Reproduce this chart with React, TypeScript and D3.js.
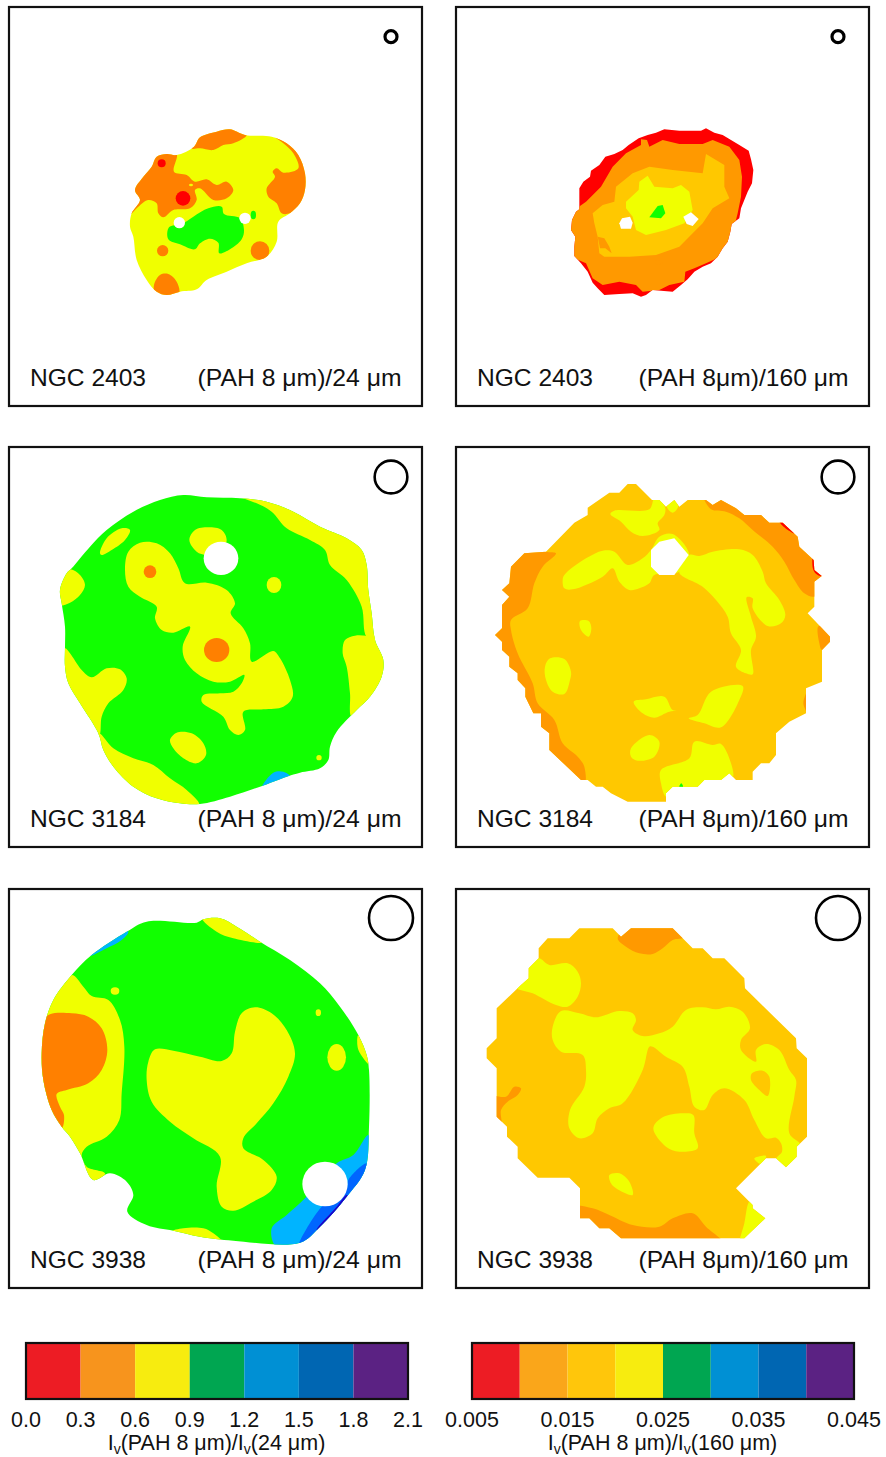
import React from "react";
import * as d3 from "d3";

type P = [number, number];
const RED = "#ff0000", ORANGE = "#ff8000", AMBERD = "#ff9900", AMBER = "#ffc800", YELLOW = "#f0ff00", GREEN = "#11ff00", SKY = "#00b4ff", BLUE = "#0066ff", NAVY = "#2000c8", WHITE = "#ffffff";

// ---- colour bars
const bar24Ticks = [0.0, 0.3, 0.6, 0.9, 1.2, 1.5, 1.8, 2.1];
const bar24Colors = ["#ed1c24", "#f7941d", "#f7ec0f", "#00a651", "#0090d4", "#0066b2", "#5b2283"];
const bar160Edges = [0.005, 0.01, 0.015, 0.02, 0.025, 0.03, 0.035, 0.04, 0.045];
const bar160Labels = [0.005, 0.015, 0.025, 0.035, 0.045];
const bar160Colors = ["#ed1c24", "#faa61a", "#ffc60b", "#f7ec0f", "#00a651", "#0090d4", "#0066b2", "#5b2283"];

// ---- contour outlines, in map units (3 units = 1 arc-map step)
const n2403a_base: P[] = [[582,440],[600,412],[650,395],[690,388],[735,405],[815,410],[860,430],[895,465],[915,520],[915,570],[900,610],[870,640],[835,665],[830,725],[800,770],[740,790],[680,815],[620,840],[590,868],[540,875],[500,885],[470,875],[440,840],[410,780],[400,710],[390,680],[395,640],[420,600],[405,570],[430,530],[455,500],[470,470],[500,462],[530,465]];
const n2403a_o1: P[] = [[575,445],[600,405],[650,385],[690,380],[740,405],[700,430],[670,435],[640,450],[600,445]];
const n2403a_o2: P[] = [[385,650],[415,595],[400,570],[425,525],[450,495],[465,465],[500,455],[530,462],[522,515],[560,525],[585,545],[620,538],[650,555],[680,545],[700,570],[680,595],[640,600],[600,565],[585,570],[590,600],[570,625],[520,630],[490,652],[475,640],[470,610],[445,600],[415,620]];
const n2403a_o3: P[] = [[815,405],[860,425],[900,460],[925,520],[925,570],[905,615],[870,640],[845,640],[830,610],[805,590],[800,565],[825,530],[818,515],[830,505],[850,518],[895,505],[880,460],[850,430]];
const n2403a_o4: P[] = [[462,855],[480,825],[505,822],[530,845],[537,880],[500,895],[465,880]];
const n2403a_g: P[] = [[507,682],[545,672],[580,650],[625,625],[665,620],[672,642],[720,655],[732,690],[725,718],[690,748],[658,760],[655,728],[630,716],[600,730],[585,748],[540,733],[505,718]];
const n2403a_spots = [[485,490,12,12,RED],[549,595,22,22,RED],[488,752,17,17,ORANGE],[780,752,28,28,ORANGE],[573,555,6,4,YELLOW],[760,645,8,13,GREEN],[538,668,17,17,WHITE],[735,655,17,17,WHITE]] as const;

const n2403b_base: P[] = [[400,565],[412,545],[432,530],[435,512],[460,495],[478,470],[505,462],[530,450],[548,435],[578,415],[605,405],[630,398],[655,388],[700,392],[765,392],[780,385],[805,398],[830,405],[855,420],[880,435],[908,452],[915,478],[922,510],[918,550],[905,575],[895,600],[885,625],[880,655],[857,672],[853,695],[845,725],[830,745],[815,770],[795,790],[770,800],[745,815],[725,838],[705,855],[680,875],[645,872],[620,870],[600,885],[585,890],[560,880],[520,882],[475,885],[455,865],[440,848],[425,815],[405,790],[385,768],[385,740],[388,710],[375,690],[378,660],[390,635],[400,628]];
const n2403b_o: P[] = [[385,775],[375,710],[365,680],[385,630],[420,605],[465,560],[500,500],[540,460],[585,435],[585,418],[603,420],[610,440],[650,420],[700,432],[770,432],[800,420],[850,440],[880,480],[888,530],[885,590],[875,640],[865,680],[855,725],[825,770],[780,790],[745,805],[718,815],[715,845],[670,855],[640,870],[590,875],[570,855],[520,845],[470,855],[440,835],[420,790]];
const n2403b_a: P[] = [[440,640],[470,615],[505,605],[510,560],[560,520],[610,500],[680,510],[770,520],[780,462],[835,495],[835,560],[850,595],[800,625],[770,670],[740,700],[700,740],[630,765],[550,770],[500,770],[475,770],[460,760],[455,710],[445,670]];
const n2403b_o2: P[] = [[455,710],[475,715],[490,740],[497,760],[478,745],[462,745]];
const n2403b_o3: P[] = [[622,780],[655,785],[635,797]];
const n2403b_y: P[] = [[540,605],[578,570],[580,545],[605,527],[625,560],[680,565],[705,555],[730,575],[740,630],[715,670],[660,690],[600,705],[570,690],[560,650],[540,625]];
const n2403b_g: P[] = [[610,652],[635,618],[650,615],[658,640],[645,655]];
const n2403b_h1: P[] = [[528,655],[552,650],[560,668],[555,686],[525,686],[520,670]];
const n2403b_h2: P[] = [[712,650],[735,637],[758,657],[740,678],[722,672]];

const n3184a_base: P[] = [[180,450],[200,400],[215,385],[270,320],[320,270],[400,215],[480,180],[550,165],[620,172],[720,175],[800,185],[880,215],[960,260],[1040,295],[1085,330],[1100,375],[1105,450],[1115,520],[1125,600],[1150,660],[1145,710],[1110,770],[1070,810],[1010,875],[990,920],[985,960],[960,985],[900,998],[860,1010],[780,1040],[690,1070],[600,1092],[540,1090],[470,1075],[400,1040],[340,980],[310,930],[295,880],[240,790],[205,730],[195,680],[195,620],[195,560],[185,490]];
const n3184a_y1: P[] = [[170,450],[190,395],[212,388],[240,405],[255,435],[240,465],[210,488],[175,495]];
const n3184a_y2: P[] = [[720,170],[800,175],[880,205],[960,250],[1050,285],[1100,325],[1125,375],[1140,450],[1150,540],[1140,600],[1100,590],[1085,500],[1040,420],[990,375],[975,330],[930,300],[860,265],[815,215],[770,190]];
const n3184a_y3: P[] = [[1100,587],[1140,590],[1170,660],[1155,720],[1110,790],[1055,830],[1050,760],[1040,680],[1028,640],[1035,600],[1065,587]];
const n3184a_y4: P[] = [[195,625],[210,640],[245,690],[275,712],[320,685],[360,688],[380,715],[370,750],[325,790],[305,830],[297,885],[230,800],[180,730],[175,680]];
const n3184a_y5: P[] = [[297,880],[340,925],[400,955],[460,975],[510,1015],[560,1050],[598,1095],[540,1105],[470,1090],[390,1050],[330,990],[295,930]];
const n3184a_y6: P[] = [[375,390],[385,335],[420,308],[470,310],[510,340],[535,385],[555,430],[620,428],[680,450],[705,490],[692,520],[730,565],[750,610],[755,665],[820,633],[840,655],[870,720],[878,770],[850,800],[790,808],[730,815],[735,870],[715,885],[690,870],[670,830],[605,785],[610,765],[660,760],[700,755],[725,730],[733,705],[690,725],[640,725],[590,700],[555,660],[548,620],[570,560],[520,578],[485,570],[465,535],[470,500],[420,470],[385,440]];
const n3184a_y7: P[] = [[300,340],[320,295],[365,265],[390,270],[375,300],[335,330],[305,345]];
const n3184a_y8: P[] = [[568,300],[585,270],[625,262],[665,270],[680,300],[660,340],[620,345],[590,335]];
const n3184a_y9: P[] = [[510,900],[530,878],[575,880],[610,910],[618,945],[590,970],[550,955],[520,925]];
const n3184a_b: P[] = [[785,1045],[820,998],[850,995],[875,1015]];
const n3184a_spots = [[450,395,19,19,ORANGE],[650,630,38,36,ORANGE],[822,435,22,24,YELLOW],[957,953,8,8,YELLOW],[663,355,52,50,WHITE]] as const;

const n3184b_base: P[] = [[300,335],[385,248],[425,225],[425,203],[490,158],[520,158],[545,132],[570,132],[618,180],[640,180],[660,200],[685,180],[700,200],[725,180],[780,180],[800,195],[825,180],[870,205],[895,225],[945,225],[970,248],[1010,248],[1055,290],[1060,320],[1103,360],[1105,390],[1127,408],[1105,425],[1105,500],[1085,520],[1128,565],[1152,590],[1152,605],[1128,630],[1128,725],[1080,745],[1080,820],[1030,845],[990,880],[990,945],[970,970],[945,970],[920,995],[920,1020],[870,1020],[850,1000],[825,1020],[775,1020],[755,1040],[680,1040],[660,1060],[660,1085],[545,1085],[495,1060],[470,1040],[450,1040],[425,1020],[405,1020],[310,930],[310,880],[285,860],[285,820],[262,820],[238,770],[238,745],[215,720],[215,700],[190,680],[190,650],[168,630],[168,605],[147,585],[168,565],[168,495],[190,470],[168,450],[190,430],[195,380],[235,340]];
const n3184b_o1: P[] = [[300,335],[330,340],[290,380],[265,430],[245,505],[195,540],[195,570],[215,640],[260,730],[275,790],[325,840],[350,910],[395,950],[415,980],[412,1040],[300,1010],[120,700],[120,400],[235,310]];
const n3184b_o2: P[] = [[770,165],[800,190],[825,165],[900,195],[1030,225],[1140,360],[1140,430],[1105,470],[1075,460],[1045,420],[1015,365],[980,320],[920,270],[880,235],[840,215],[795,208]];
const n3184b_o3: P[] = [[1118,558],[1175,585],[1175,610],[1128,630],[1120,610]];
const n3184b_o4: P[] = [[1090,745],[1090,825],[1072,790]];
const n3184b_r1: P[] = [[998,240],[1020,240],[1045,280],[1015,262]];
const n3184b_r2: P[] = [[1100,355],[1112,380],[1135,410],[1115,405],[1102,390]];
const n3184b_y1: P[] = [[493,222],[505,212],[610,208],[625,175],[640,175],[658,205],[655,225],[635,250],[640,270],[590,288],[555,275],[525,245]];
const n3184b_y2: P[] = [[662,198],[685,175],[697,198],[680,218]];
const n3184b_y3: P[] = [[730,345],[760,348],[800,335],[880,328],[920,345],[950,395],[960,430],[1000,480],[1018,525],[1005,550],[965,558],[920,505],[920,475],[902,472],[915,530],[930,590],[915,630],[920,703],[900,700],[870,680],[885,630],[855,580],[845,530],[810,480],[770,440],[700,398],[720,370]];
const n3184b_y4: P[] = [[350,420],[355,405],[420,355],[470,332],[505,335],[545,375],[590,355],[615,330],[640,290],[680,282],[730,345],[700,395],[625,405],[610,430],[580,445],[550,450],[520,425],[500,385],[470,410],[380,448],[355,445]];
const n3184b_y5: P[] = [[402,543],[428,543],[436,565],[428,590],[405,570]];
const n3184b_y6: P[] = [[297,680],[312,655],[355,657],[375,695],[372,720],[355,762],[320,755],[300,720]];
const n3184b_y7: P[] = [[563,785],[600,778],[655,770],[680,810],[705,813],[670,815],[625,833],[590,820]];
const n3184b_y8: P[] = [[728,835],[755,825],[795,755],[890,738],[880,780],[825,862],[775,850]];
const n3184b_y9: P[] = [[555,925],[610,885],[640,905],[625,950],[575,962],[555,950]];
const n3184b_y10: P[] = [[645,990],[730,955],[745,905],[800,915],[825,912],[855,970],[860,1015],[825,1035],[775,1035],[755,1055],[680,1055],[660,1070],[645,1030]];
const n3184b_g: P[] = [[700,1040],[706,1030],[711,1040]];
const n3184b_h: P[] = [[640,305],[685,295],[728,345],[685,405],[640,405],[615,380],[615,330]];

const n3938a_base: P[] = [[215,285],[275,225],[380,155],[440,125],[590,128],[610,118],[660,115],[710,140],[780,185],[870,240],[960,310],[1020,380],[1075,465],[1100,525],[1107,570],[1107,740],[1095,870],[1040,950],[960,1040],[900,1088],[700,1082],[600,1070],[520,1052],[440,1035],[382,995],[400,945],[380,905],[330,880],[280,900],[240,820],[210,770],[185,740],[155,690],[130,600],[125,520],[135,430],[160,360]];
const n3938a_y1: P[] = [[605,112],[650,100],[720,130],[790,187],[700,175],[650,155]];
const n3938a_s1: P[] = [[270,228],[370,140],[385,155],[365,180],[320,205]];
const n3938a_y2: P[] = [[215,285],[250,320],[275,348],[325,360],[360,420],[373,500],[365,640],[358,720],[320,770],[260,800],[245,825],[260,860],[315,880],[280,910],[230,830],[190,770],[130,690],[110,600],[110,520],[120,430],[150,350]];
const n3938a_o: P[] = [[150,403],[215,400],[265,410],[305,445],[322,510],[305,570],[265,610],[200,630],[170,642],[180,680],[192,705],[185,745],[140,700],[110,600],[110,520],[120,430]];
const n3938a_y3: P[] = [[440,600],[445,545],[465,508],[520,512],[600,530],[665,543],[695,520],[705,455],[725,400],[765,382],[815,400],[860,450],[885,520],[865,590],[820,670],[770,730],[730,775],[730,805],[790,840],[830,890],[815,930],[760,965],[700,992],[665,980],[650,920],[660,830],[580,775],[510,725],[455,665]];
const n3938a_y4: P[] = [[1075,465],[1110,525],[1110,555],[1080,520],[1072,495]];
const n3938a_y5: P[] = [[515,1055],[550,1045],[610,1045],[640,1060],[670,1090],[600,1085]];
const n3938a_s2: P[] = [[1105,765],[1105,880],[1040,960],[960,1050],[900,1100],[828,1100],[815,1045],[860,1005],[915,955],[1010,850],[1060,825]];
const n3938a_b: P[] = [[1100,850],[1105,880],[1040,960],[960,1050],[895,1100],[965,980],[1040,925],[1045,900]];
const n3938a_n: P[] = [[1040,945],[1045,955],[960,1050],[950,1050],[1010,980]];
const n3938a_spots = [[345,333,13,11,YELLOW],[955,398,8,10,YELLOW],[1010,532,28,40,YELLOW],[975,912,68,67,WHITE]] as const;

const n3938b_base: P[] = [[278,205],[305,175],[370,175],[400,145],[500,145],[525,170],[555,145],[680,145],[710,175],[740,205],[770,205],[800,235],[835,235],[895,295],[897,325],[1050,475],[1052,505],[1083,535],[1083,770],[1052,800],[1052,830],[1020,862],[990,835],[960,835],[870,925],[920,975],[920,985],[958,1015],[895,1075],[525,1075],[490,1045],[460,1045],[430,1015],[402,1015],[402,925],[370,893],[275,893],[215,835],[215,800],[183,770],[183,740],[152,710],[152,565],[122,535],[122,505],[152,475],[152,385],[225,315],[248,295],[248,265],[278,235]];
const n3938b_o1: P[] = [[515,175],[555,130],[680,130],[715,172],[680,180],[650,205],[620,222],[580,220],[540,200]];
const n3938b_o2: P[] = [[380,980],[440,985],[490,1005],[560,1035],[640,1040],[680,1015],[740,1000],[780,1040],[835,1095],[525,1095],[380,1040]];
const n3938b_o3: P[] = [[135,650],[180,650],[205,620],[225,625],[215,645],[185,665],[165,690],[165,735],[135,730]];
const n3938b_y1: P[] = [[205,320],[245,285],[248,260],[278,235],[310,255],[365,250],[395,275],[405,310],[395,350],[365,380],[330,375],[260,340]];
const n3938b_y2: P[] = [[345,393],[400,400],[450,412],[520,393],[560,400],[570,420],[560,450],[590,468],[640,460],[680,440],[720,390],[770,382],[810,388],[850,380],[890,395],[912,445],[885,480],[885,510],[930,545],[930,510],[960,492],[1000,510],[1030,570],[1050,600],[1045,650],[1030,760],[1065,795],[1065,845],[1020,880],[990,838],[1008,815],[1005,790],[990,773],[960,775],[925,720],[895,660],[835,625],[800,645],[775,690],[745,680],[730,620],[710,560],[660,530],[620,500],[610,500],[590,570],[530,670],[490,685],[455,715],[440,760],[400,775],[370,745],[372,690],[415,620],[420,570],[410,525],[345,515],[320,480],[320,440]];
const n3938b_a1: P[] = [[918,580],[950,572],[970,590],[965,648],[940,630],[915,600]];
const n3938b_y3: P[] = [[622,745],[650,712],[710,700],[742,705],[745,760],[755,805],[700,815],[660,800]];
const n3938b_y4: P[] = [[490,885],[520,880],[550,905],[560,945],[510,925],[495,910]];
const n3938b_y5: P[] = [[880,1100],[895,1030],[915,960],[985,1015],[895,1100]];
const n3938b_y6: P[] = [[925,835],[960,828],[945,852]];

type Region = [string, P[]];
const panels = [
  { col: 0, row: 0, name: "NGC 2403", label: "(PAH 8 μm)/24 μm", w: 204, base: n2403a_base, fill: YELLOW, curve: true, inner: true, beam: 18,
    regions: [[ORANGE, n2403a_o1], [ORANGE, n2403a_o2], [ORANGE, n2403a_o3], [ORANGE, n2403a_o4], [GREEN, n2403a_g]] as Region[], spots: n2403a_spots },
  { col: 1, row: 0, name: "NGC 2403", label: "(PAH 8μm)/160 μm", w: 210, base: n2403b_base, fill: RED, curve: false, inner: false, beam: 18,
    regions: [[AMBERD, n2403b_o], [AMBER, n2403b_a], [AMBERD, n2403b_o2], [AMBERD, n2403b_o3], [YELLOW, n2403b_y], [GREEN, n2403b_g], [WHITE, n2403b_h1], [WHITE, n2403b_h2]] as Region[], spots: [] },
  { col: 0, row: 1, name: "NGC 3184", label: "(PAH 8 μm)/24 μm", w: 204, base: n3184a_base, fill: GREEN, curve: true, inner: true, beam: 49,
    regions: [[YELLOW, n3184a_y1], [YELLOW, n3184a_y2], [YELLOW, n3184a_y3], [YELLOW, n3184a_y4], [YELLOW, n3184a_y5], [YELLOW, n3184a_y6], [YELLOW, n3184a_y7], [YELLOW, n3184a_y8], [YELLOW, n3184a_y9], [SKY, n3184a_b]] as Region[], spots: n3184a_spots },
  { col: 1, row: 1, name: "NGC 3184", label: "(PAH 8μm)/160 μm", w: 210, base: n3184b_base, fill: AMBER, curve: false, inner: true, beam: 49,
    regions: [[AMBERD, n3184b_o1], [AMBERD, n3184b_o2], [AMBERD, n3184b_o3], [AMBERD, n3184b_o4], [RED, n3184b_r1], [RED, n3184b_r2], [YELLOW, n3184b_y1], [YELLOW, n3184b_y2], [YELLOW, n3184b_y3], [YELLOW, n3184b_y4], [YELLOW, n3184b_y5], [YELLOW, n3184b_y6], [YELLOW, n3184b_y7], [YELLOW, n3184b_y8], [YELLOW, n3184b_y9], [YELLOW, n3184b_y10], [GREEN, n3184b_g], [WHITE, n3184b_h]] as Region[], spots: [] },
  { col: 0, row: 2, name: "NGC 3938", label: "(PAH 8 μm)/24 μm", w: 204, base: n3938a_base, fill: GREEN, curve: true, inner: true, beam: 66,
    regions: [[YELLOW, n3938a_y1], [SKY, n3938a_s1], [YELLOW, n3938a_y2], [ORANGE, n3938a_o], [YELLOW, n3938a_y3], [YELLOW, n3938a_y4], [YELLOW, n3938a_y5], [SKY, n3938a_s2], [BLUE, n3938a_b], [NAVY, n3938a_n]] as Region[], spots: n3938a_spots },
  { col: 1, row: 2, name: "NGC 3938", label: "(PAH 8μm)/160 μm", w: 210, base: n3938b_base, fill: AMBER, curve: false, inner: true, beam: 66,
    regions: [[AMBERD, n3938b_o1], [AMBERD, n3938b_o2], [AMBERD, n3938b_o3], [YELLOW, n3938b_y1], [YELLOW, n3938b_y2], [AMBER, n3938b_a1], [YELLOW, n3938b_y3], [YELLOW, n3938b_y4], [YELLOW, n3938b_y5], [YELLOW, n3938b_y6]] as Region[], spots: [] },
];

const colX = [0, 446];
const rowY = [0, 440, 880];
const frameX0 = [9, 456];
const frameY = [[7, 406], [447, 847], [889, 1288]];
const labelBase = [386, 827, 1268];
const beamY = [36.7, 477, 918];

const FONT = "'Liberation Sans', Arial, Helvetica, sans-serif";

function Panel({ p, i }: { p: (typeof panels)[number]; i: number }) {
  const sx = d3.scaleLinear().domain([0, 1320]).range([colX[p.col], colX[p.col] + 440]);
  const sy = d3.scaleLinear().domain([0, 1260]).range([rowY[p.row], rowY[p.row] + 420]);
  const smooth = d3.line<P>().x((d) => sx(d[0])).y((d) => sy(d[1])).curve(d3.curveCatmullRomClosed.alpha(0.5));
  const sharp = d3.line<P>().x((d) => sx(d[0])).y((d) => sy(d[1])).curve(d3.curveLinearClosed);
  const outline = p.curve ? smooth : sharp;
  const x0 = frameX0[p.col];
  const [y0, y1] = frameY[p.row];
  const id = `clip${i}`;
  return (
    <g>
      <clipPath id={id}><path d={outline(p.base) ?? ""} /></clipPath>
      <path d={outline(p.base) ?? ""} fill={p.fill} />
      <g clipPath={`url(#${id})`}>
        {p.regions.map(([c, pts], k) => (
          <path key={k} d={(p.inner && c !== WHITE ? smooth : sharp)(pts) ?? ""} fill={c} />
        ))}
        {p.spots.map((s, k) => (
          <ellipse key={k} cx={sx(s[0])} cy={sy(s[1])} rx={s[2] / 3} ry={s[3] / 3} fill={s[4]} />
        ))}
      </g>
      <rect x={x0} y={y0} width={413} height={y1 - y0} fill="none" stroke="#111" strokeWidth={2.2} />
      <circle cx={x0 + 382} cy={beamY[p.row]} r={p.beam / 3} fill="none" stroke="#000" strokeWidth={p.beam < 20 ? 3.2 : 2.6} />
      <text x={x0 + 21} y={labelBase[p.row]} fontFamily={FONT} fontSize={24} fill="#111" textLength={116} lengthAdjust="spacingAndGlyphs">{p.name}</text>
      <text x={x0 + 392.5 - p.w} y={labelBase[p.row]} fontFamily={FONT} fontSize={24} fill="#111" textLength={p.w} lengthAdjust="spacingAndGlyphs">{p.label}</text>
    </g>
  );
}

function Bar({ edges, colors, labels, scale, fmt, title }: { edges: number[]; colors: string[]; labels: number[]; scale: d3.ScaleLinear<number, number>; fmt: (v: number) => string; title: string; }) {
  const [a, b] = scale.range();
  const center = (a + b) / 2;
  return (
    <g>
      {colors.map((c, i) => (
        <rect key={i} x={scale(edges[i])} y={1343} width={scale(edges[i + 1]) - scale(edges[i])} height={56} fill={c} />
      ))}
      <rect x={a} y={1343} width={b - a} height={56} fill="none" stroke="#111" strokeWidth={2.2} />
      {labels.map((v) => (
        <text key={v} x={scale(v)} y={1427} textAnchor="middle" fontFamily={FONT} fontSize={21.5} fill="#111">{fmt(v)}</text>
      ))}
      <text x={center - 0.5} y={1450} textAnchor="middle" fontFamily={FONT} fontSize={21.5} fill="#111">
        I<tspan fontSize={14} dy={4}>v</tspan><tspan dy={-4}>(PAH 8 μm)/I</tspan><tspan fontSize={14} dy={4}>v</tspan><tspan dy={-4}>({title} μm)</tspan>
      </text>
    </g>
  );
}

export default function App() {
  const s24 = d3.scaleLinear().domain([0, 2.1]).range([26, 408]);
  const s160 = d3.scaleLinear().domain([0.005, 0.045]).range([472, 854]);
  return (
    <svg width={886} height={1457} style={{ position: "absolute", left: 0, top: 0, background: "#fff" }}>
      {panels.map((p, i) => <Panel key={i} p={p} i={i} />)}
      <Bar edges={bar24Ticks} colors={bar24Colors} labels={bar24Ticks} scale={s24} fmt={d3.format(".1f")} title="24" />
      <Bar edges={bar160Edges} colors={bar160Colors} labels={bar160Labels} scale={s160} fmt={d3.format(".3f")} title="160" />
    </svg>
  );
}
